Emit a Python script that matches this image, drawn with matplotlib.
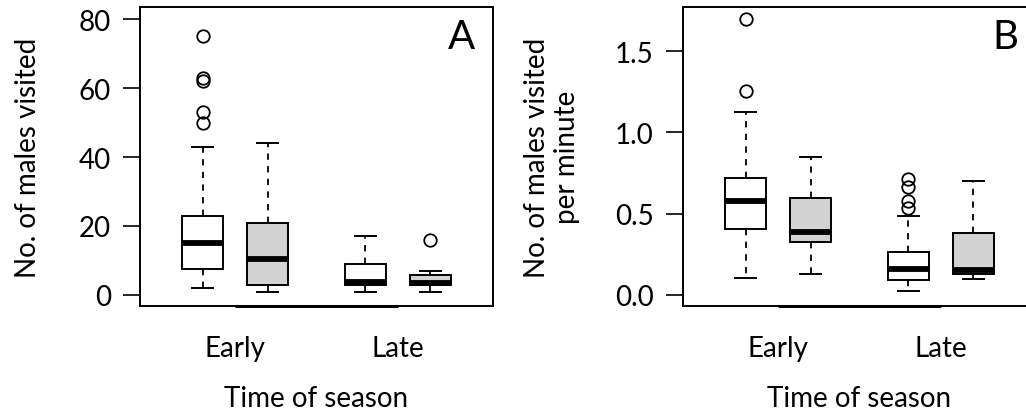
import matplotlib
matplotlib.use("Agg")
import matplotlib.pyplot as plt

plt.rcParams['font.family'] = ['Lato', 'DejaVu Sans']

# ---- data ----
groups = ["Early", "Early", "Late", "Late"]
positions = [1, 2, 3.5, 4.5]
fills = ["white", "#d3d3d3", "white", "#d3d3d3"]
tick_pos = [1.5, 4.0]
tick_labels = ["Early", "Late"]

# Panel A: No. of males visited
a_whislo = [2, 1, 1, 1]
a_q1 = [7.4, 3, 3, 3]
a_med = [15, 10.4, 3.8, 3.6]
a_q3 = [22.9, 20.9, 8.9, 5.9]
a_whishi = [43, 44, 17, 7]
a_fliers = [[75, 63, 62, 53, 50], [], [], [16]]

# Panel B: No. of males visited per minute
b_whislo = [0.106, 0.127, 0.025, 0.098]
b_q1 = [0.404, 0.324, 0.092, 0.127]
b_med = [0.578, 0.385, 0.158, 0.155]
b_q3 = [0.717, 0.598, 0.262, 0.381]
b_whishi = [1.127, 0.849, 0.488, 0.701]
b_fliers = [[1.70, 1.253], [], [0.713, 0.666, 0.576, 0.537], []]

a_ticks = [0, 20, 40, 60, 80]
a_ticklabels = ["0", "20", "40", "60", "80"]
b_ticks = [0.0, 0.5, 1.0, 1.5]
b_ticklabels = ["0.0", "0.5", "1.0", "1.5"]


def make_stats(wl, q1, med, q3, wh, fl):
    return [dict(whislo=wl[i], q1=q1[i], med=med[i], q3=q3[i], whishi=wh[i],
                 fliers=fl[i]) for i in range(len(med))]


fig = plt.figure(figsize=(10.26, 4.10), dpi=100)
axA = fig.add_axes([140 / 1026, 1 - 307 / 410, 353 / 1026, 299 / 410])
axB = fig.add_axes([683 / 1026, 1 - 307 / 410, 353 / 1026, 299 / 410])

FS = 20


def draw(ax, stats, ylim, ticks, ticklabels, letter, ylabel, lx):
    bp = ax.bxp(stats, positions=positions, widths=0.63, patch_artist=True,
                showfliers=True,
                boxprops=dict(edgecolor="black", linewidth=1.4),
                medianprops=dict(color="black", linewidth=4.2, solid_capstyle="butt"),
                whiskerprops=dict(color="black", linewidth=1.3, linestyle=(0, (3.5, 3.5))),
                capprops=dict(color="black", linewidth=1.4),
                flierprops=dict(marker="o", markersize=9, markerfacecolor="none",
                                markeredgecolor="black", markeredgewidth=1.3,
                                linestyle="none"),
                capwidths=0.315)
    for patch, c in zip(bp["boxes"], fills):
        patch.set_facecolor(c)
    ax.set_xlim(0.04, 5.46)
    ax.set_ylim(*ylim)
    ax.set_yticks(ticks)
    ax.set_yticklabels(ticklabels, fontsize=FS)
    ax.set_xticks(tick_pos)
    ax.set_xticklabels(tick_labels, fontsize=FS)
    ax.tick_params(axis="x", length=0, pad=21)
    ax.tick_params(axis="y", length=12, width=1.2, pad=9)
    for s in ax.spines.values():
        s.set_linewidth(1.4)
    # R-style axis line from first to last tick
    ax.plot([tick_pos[0], tick_pos[-1]], [ylim[0], ylim[0]], color="black",
            linewidth=2.2, clip_on=False, solid_capstyle="butt", zorder=5)
    ax.set_xlabel("Time of season", fontsize=FS)
    ax.xaxis.set_label_coords(0.5, -(399 - 307) / 299)
    ax.xaxis.label.set_va("center")
    ax.set_ylabel(ylabel, fontsize=FS, linespacing=1.15)
    ax.yaxis.set_label_coords(lx, 0.5)
    ax.yaxis.label.set_va("center")
    ax.text(0.95, 0.90, letter, transform=ax.transAxes, ha="right", va="center",
            fontsize=29)


draw(axA, make_stats(a_whislo, a_q1, a_med, a_q3, a_whishi, a_fliers),
     (-3.2, 83.5), a_ticks, a_ticklabels, "A", "No. of males visited",
     (28 - 140) / 353)
draw(axB, make_stats(b_whislo, b_q1, b_med, b_q3, b_whishi, b_fliers),
     (-0.068, 1.771), b_ticks, b_ticklabels, "B", "No. of males visited\nper minute",
     (552 - 683) / 353)

fig.savefig("out.png", dpi=100)
